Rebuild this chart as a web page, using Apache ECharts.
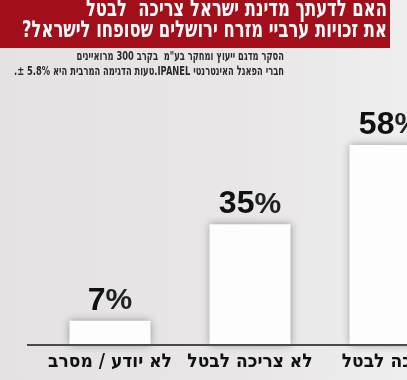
<!DOCTYPE html>
<html>
<head>
<meta charset="utf-8">
<script src="https://cdn.jsdelivr.net/npm/echarts@6/dist/echarts.min.js"></script>
<style>
html,body{margin:0;padding:0;background:#e7e5e6;}
#c{width:407px;height:380px;}
</style>
</head>
<body>
<div id="c" dir="rtl"></div>
<script>
var categories = ["לא יודע / מסרב", "לא צריכה לבטל", "צריכה לבטל"];
var values = [7, 35, 58];
var titleLines = ["האם לדעתך מדינת ישראל צריכה  לבטל", "את זכויות ערביי מזרח ירושלים שסופחו לישראל?"];
var subtitleLines = ["הסקר מדגם ייעוץ ומחקר בע\"מ  בקרב 300 מרואיינים", "חברי הפאנל האינטרנטי IPANEL.טעות הדגימה המרבית היא 5.8% ±."];

function fitScale(lines, font, target) {
  var cv = document.createElement('canvas');
  var ctx = cv.getContext('2d');
  ctx.font = font;
  var w = 0;
  lines.forEach(function (l) { w = Math.max(w, ctx.measureText(l).width); });
  return w > 0 ? target / w : 1;
}
var titleFont = 'bold 23px "DejaVu Sans"';
var subFont = 'bold 13px "DejaVu Sans"';
var titleScale = fitScale(titleLines, titleFont, 365);
var subScale = fitScale(subtitleLines, subFont, 270);

var chart = echarts.init(document.getElementById('c'), null, {renderer: 'canvas'});
var option = {
  backgroundColor: {
    type: 'linear', x: 0, y: 0, x2: 1, y2: 0,
    colorStops: [{offset: 0, color: '#e4e2e3'}, {offset: 0.6, color: '#e8e6e7'}, {offset: 1, color: '#efeeee'}]
  },
  animation: false,
  grid: {left: 40, width: 420, top: 0, bottom: 35, outerBoundsMode: 'none', containLabel: false},
  xAxis: {
    type: 'category',
    data: categories,
    axisLine: {show: false},
    axisTick: {show: false},
    axisLabel: {
      margin: 8, fontSize: 19, fontWeight: 'bold', color: '#111',
      fontFamily: 'DejaVu Sans Condensed', interval: 0
    }
  },
  yAxis: {type: 'value', min: 0, max: 100, show: false},
  series: [{
    type: 'bar',
    data: values,
    barWidth: 81,
    itemStyle: {color: '#fdfdfd', shadowBlur: 8, shadowColor: 'rgba(0,0,0,0.35)'},
    label: {
      show: true, position: 'top', distance: 4,
      formatter: function (p) { return '{n|' + p.value + '}{p|%}'; },
      rich: {
        n: {fontSize: 32, fontWeight: 900, color: '#111', fontFamily: 'Liberation Sans'},
        p: {fontSize: 30, fontWeight: 'bold', color: '#222', fontFamily: 'Liberation Sans'}
      }
    }
  }],
  graphic: [
    {type: 'rect', shape: {x: 0, y: 0, width: 390, height: 48}, style: {fill: '#a20f1a'}, z: 1},
    {type: 'text', x: 387, y: 0, scaleX: titleScale, z: 2, style: {
      text: titleLines.join('\n'), fill: '#fff', align: 'right', verticalAlign: 'top',
      font: titleFont, lineHeight: 21
    }},
    {type: 'text', x: 284, y: 49, scaleX: subScale, z: 2, style: {
      text: subtitleLines.join('\n'), fill: '#2a2a2a', align: 'right', verticalAlign: 'top',
      font: subFont, lineHeight: 15
    }},
    {type: 'line', shape: {x1: 27, y1: 345, x2: 407, y2: 345}, style: {stroke: '#4a4a4a', lineWidth: 2}, z: 3}
  ]
};
chart.setOption(option);
</script>
</body>
</html>
